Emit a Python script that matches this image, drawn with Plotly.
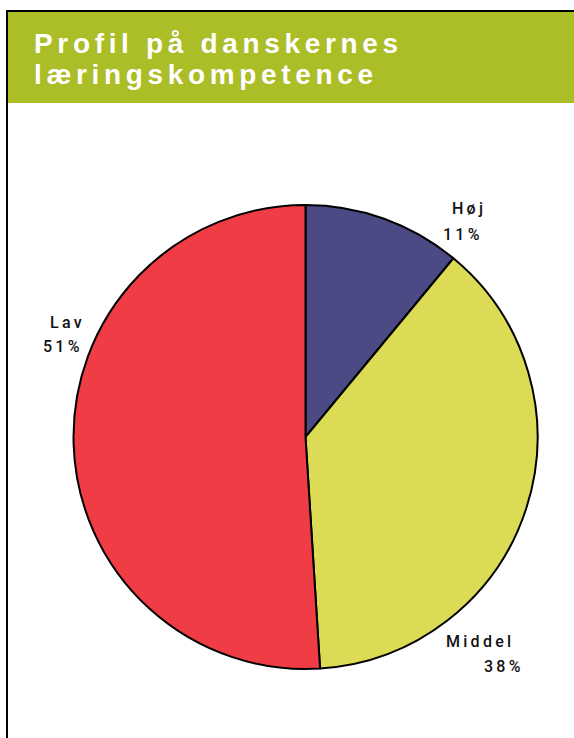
import plotly.graph_objects as go

W, H = 574, 738

# Data
categories = ["Høj", "Middel", "Lav"]
shares = [11, 38, 51]
slice_colors = ["#4b4a84", "#dcdb55", "#ef3c45"]
title_lines = ["Profil på danskernes", "læringskompetence"]

# Label anchor points in pixels (x, y of name line, y of value line)
label_pos = {
    "Høj": ((467, 209), (461, 234)),
    "Middel": ((478, 641), (502, 666)),
    "Lav": ((66, 322), (61, 347)),
}

SP = "\u2009"  # thin space used for tracking


def track(s, sep=SP):
    return sep.join(list(s))


def px(x):
    return x / W


def py(y):
    return 1 - y / H


fig = go.Figure()

# Pie occupies a 464px square centred at (305.5, 437)
cx, cy, r = 305.5, 437, 232
fig.add_trace(go.Pie(
    labels=categories,
    values=shares,
    sort=False,
    direction="clockwise",
    rotation=0,
    marker=dict(colors=slice_colors, line=dict(color="#000000", width=2)),
    textinfo="none",
    hoverinfo="label+percent",
    showlegend=False,
    domain=dict(x=[px(cx - r), px(cx + r)], y=[py(cy + r), py(cy - r)]),
))

annotations = []
# Title, white on green band
for line, yc in zip(title_lines, [43, 75]):
    annotations.append(dict(
        x=px(32), y=py(yc), xref="paper", yref="paper",
        xanchor="left", yanchor="middle", showarrow=False,
        text="<b>" + track(line, "\u2006") + "</b>",
        font=dict(family="Liberation Sans, Arial, sans-serif", size=28, color="#ffffff"),
    ))

# Slice labels
for cat, val in zip(categories, shares):
    (nx, ny), (vx, vy) = label_pos[cat]
    for text, x, y in [(cat, nx, ny), (f"{val}%", vx, vy)]:
        annotations.append(dict(
            x=px(x), y=py(y), xref="paper", yref="paper",
            xanchor="center", yanchor="middle", showarrow=False,
            text=track(text),
            font=dict(family="Roboto, Liberation Sans, Arial, sans-serif", size=16,
                      weight=500, color="#111111"),
        ))

shapes = [
    # green header band
    dict(type="rect", xref="paper", yref="paper", x0=px(8), x1=1, y0=py(103), y1=py(12),
         fillcolor="#abbd27", line=dict(width=0), layer="below"),
    # frame lines
    dict(type="line", xref="paper", yref="paper", x0=px(6), x1=1, y0=py(11), y1=py(11),
         line=dict(color="#000000", width=2)),
    dict(type="line", xref="paper", yref="paper", x0=px(7), x1=px(7), y0=0, y1=py(10),
         line=dict(color="#000000", width=2)),
]

fig.update_layout(
    width=W, height=H,
    margin=dict(l=0, r=0, t=0, b=0),
    paper_bgcolor="#ffffff",
    plot_bgcolor="#ffffff",
    annotations=annotations,
    shapes=shapes,
)

fig.write_html("out.html")
